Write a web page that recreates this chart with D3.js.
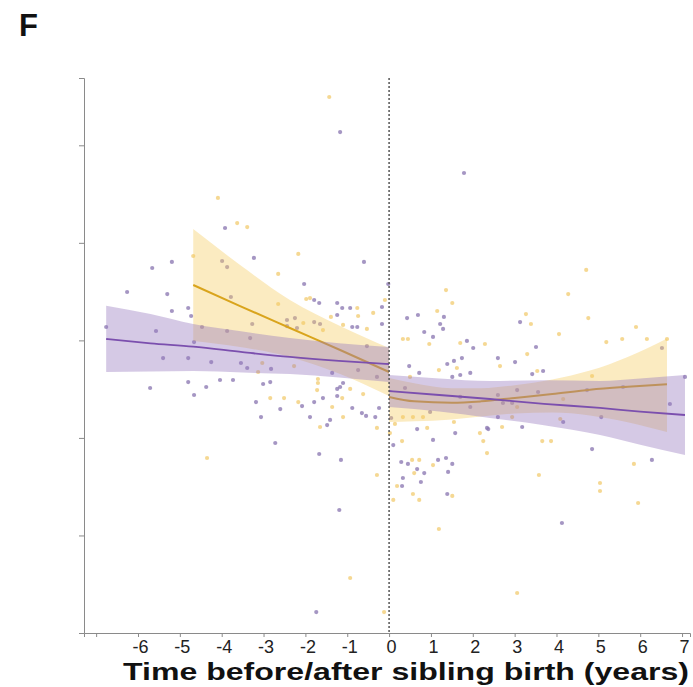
<!DOCTYPE html>
<html>
<head>
<meta charset="utf-8">
<script src="https://cdn.jsdelivr.net/npm/d3@7"></script>
<style>
  html, body { margin: 0; padding: 0; background: #fff; }
  svg { display: block; }
</style>
</head>
<body>
<div id="chart"></div>
<script>
// ---------------- DATA ----------------
const xTicks = [-7, -6, -5, -4, -3, -2, -1, 0, 1, 2, 3, 4, 5, 6, 7];
const xTickLabels = ["", "-6", "-5", "-4", "-3", "-2", "-1", "0", "1", "2", "3", "4", "5", "6", "7"];
const yTicks = [1, 2, 3, 4, 5];
const xTitle = "Time before/after sibling birth (years)";
const panelLabel = "F";

// purple group points [time, value]
const purplePoints = [
  [-6.76,3.137],[-6.26,3.496],[-5.66,3.742],[-5.19,3.804],[-5.30,3.475],[-5.19,3.301],[-4.80,3.332],
  [-4.73,3.250],[-5.57,3.096],[-4.47,3.137],[-3.87,3.096],[-3.27,3.168],[-3.32,3.024],[-4.66,2.983],
  [-3.92,4.152],[-3.23,3.845],[-3.99,3.814],[-3.87,3.752],[-3.78,3.445],[-2.44,3.209],[-2.44,3.147],
  [-5.40,2.819],[-4.80,2.819],[-4.25,2.778],[-3.54,2.768],[-3.39,2.717],[-2.82,2.707],[-5.71,2.512],
  [-4.80,2.573],[-4.37,2.522],[-4.04,2.594],[-3.73,2.594],[-4.66,2.440],[-3.01,2.553],[-2.84,2.573],
  [-3.18,2.368],[-3.06,2.214],[-2.60,2.296],[-2.08,2.327],[-2.03,3.578],[-1.79,3.414],[-1.67,3.383],
  [-1.79,3.188],[-1.65,3.168],[-2.25,3.229],[-2.20,3.127],[-1.24,3.260],[-1.24,3.383],[-1.12,3.332],
  [-0.93,3.332],[-0.88,3.137],[-0.76,3.137],[-0.60,3.804],[-0.53,2.942],[-0.17,3.342],[-0.17,3.168],
  [-0.29,2.625],[-0.74,2.696],[-1.36,2.666],[-1.10,2.563],[-1.58,2.409],[-1.24,2.502],[-1.24,2.430],
  [-0.88,2.307],[-1.79,2.368],[-1.89,2.214],[-1.41,2.184],[-0.65,2.255],[-0.33,2.214],[-1.17,5.136],
  [-0.24,2.307],[-1.48,2.132],[-1.17,2.522],[-1.67,1.835],[-1.15,1.774],[-1.19,1.261],[-1.74,0.215],
  [-2.72,1.948],[-0.02,3.578],[-0.55,2.225],
  [1.79,4.716],[0.43,3.229],[0.69,3.260],[1.31,3.240],[1.22,3.168],[1.29,3.117],[0.84,3.086],
  [1.05,3.035],[1.86,2.994],[2.01,2.922],[3.51,2.932],[3.68,2.686],[3.42,2.655],[3.13,3.188],
  [3.01,2.778],[2.60,2.819],[1.74,2.819],[1.55,2.789],[1.39,2.758],[1.51,2.625],[1.70,2.645],
  [1.94,2.666],[0.72,2.666],[0.48,2.737],[0.38,2.512],[1.70,2.420],[1.94,2.317],[2.60,2.440],
  [3.06,2.491],[3.56,2.471],[2.72,2.358],[2.94,2.358],[2.60,2.214],[0.98,2.266],[0.67,2.091],
  [1.58,2.050],[2.34,2.102],[3.18,2.112],[4.73,2.491],[5.59,2.522],[6.71,2.348],[7.07,2.625],
  [6.52,2.922],[5.07,2.214],[4.85,1.886],[6.28,1.774],[4.13,1.128],[0.05,2.204],[1.05,1.979],
  [0.10,1.927],[0.29,1.753],[0.45,1.733],[1.17,1.774],[1.36,1.794],[1.51,1.733],[0.67,1.681],
  [0.84,1.640],[1.41,1.651],[0.33,1.589],[0.76,1.548],[0.31,1.507],[1.39,1.425],[2.37,2.091],
  [4.16,2.163]
];

// yellow group points [time, value]
const yellowPoints = [
  [-1.43,5.495],[-4.09,4.460],[-3.63,4.203],[-3.39,4.162],[-4.68,3.865],[-2.65,3.681],[-2.65,3.373],
  [-2.17,3.886],[-3.13,2.676],[-3.03,2.768],[-2.84,2.409],[-2.51,2.409],[-4.35,1.794],[-1.98,3.424],
  [-1.89,3.434],[-0.74,3.250],[-1.39,3.240],[-1.10,3.158],[-0.38,3.281],[-0.10,3.414],[-0.53,3.117],
  [-0.76,3.332],[-1.70,2.604],[-1.72,2.491],[-1.70,2.563],[-2.17,2.368],[-1.12,2.409],[-1.36,2.317],
  [-1.10,2.214],[-0.62,2.450],[-0.29,2.102],[-0.29,1.620],[-0.93,0.564],[-0.12,0.215],[-2.05,3.178],
  [-1.58,3.106],[-1.65,2.112],[-0.93,2.502],[-2.27,2.737],
  [1.36,3.516],[1.51,3.383],[1.15,3.301],[0.33,3.014],[0.45,3.014],[0.96,2.963],[1.70,2.973],
  [2.29,2.963],[4.71,3.722],[4.28,3.475],[3.27,3.270],[3.39,3.168],[4.76,3.229],[4.06,3.065],
  [5.90,3.137],[5.19,2.983],[5.57,3.014],[6.16,3.014],[6.64,3.014],[3.30,2.860],[2.65,2.737],
  [1.19,2.696],[4.85,2.635],[4.16,2.399],[3.06,2.317],[0.57,2.214],[0.81,2.214],[0.33,2.214],
  [0.91,2.102],[1.55,2.163],[0.14,2.143],[0.02,2.050],[0.31,1.968],[2.25,1.968],[0.55,1.774],
  [0.72,1.774],[1.05,1.722],[0.60,1.640],[0.19,1.507],[0.57,1.425],[0.72,1.364],[1.51,1.405],
  [0.10,1.364],[1.19,1.066],[2.34,1.845],[2.70,2.112],[2.94,2.214],[4.09,2.194],[3.66,1.968],
  [3.87,1.968],[5.85,1.733],[3.58,1.620],[5.04,1.538],[5.04,1.456],[5.95,1.333],[3.06,0.410],
  [2.17,2.050],[3.54,2.686],[1.62,2.717],[0.50,2.625]
];

// fitted lines with confidence band: [time, fit, lower, upper]
const purpleBefore = [
  [-6.76,3.014,2.676,3.356],[-5.7,2.970,2.680,3.270],[-4.68,2.935,2.686,3.168],
  [-3.5,2.880,2.670,3.090],[-2.37,2.830,2.655,3.024],[-1.2,2.790,2.620,2.970],[0,2.758,2.573,2.932]
];
const yellowBefore = [
  [-4.68,3.568,2.994,4.142],[-3.56,3.352,2.932,3.773],[-2.37,3.127,2.830,3.414],
  [-1.17,2.901,2.655,3.147],[0,2.676,2.430,2.922]
];
const purpleAfter = [
  [0,2.481,2.317,2.645],[1.2,2.440,2.270,2.610],[2.41,2.399,2.204,2.584],[3.7,2.350,2.130,2.590],
  [5.04,2.307,2.030,2.584],[6.0,2.270,1.930,2.610],[7.07,2.235,1.825,2.645]
];
const yellowAfter = [
  [0,2.420,2.163,2.614],[0.6,2.375,2.170,2.560],[1.5,2.360,2.190,2.510],[2.2,2.375,2.220,2.510],
  [3.0,2.410,2.250,2.540],[3.9,2.450,2.260,2.600],[4.8,2.495,2.230,2.690],[5.7,2.525,2.160,2.830],
  [6.64,2.550,2.060,3.020]
];

// ---------------- DRAW ----------------
const W = 693, H = 687;
const svg = d3.select("#chart").append("svg").attr("width", W).attr("height", H);

const x = d3.scaleLinear().domain([-7.29, 7.19]).range([84, 690]);
const y = d3.scaleLinear().domain([0, 5.69]).range([633, 78]);

const col = {
  purplePt: "rgb(135,115,175)",
  yellowPt: "rgb(242,206,120)",
  purpleLine: "#7b4fae",
  yellowLine: "#d9a41c",
  purpleBand: "rgb(150,120,190)",
  yellowBand: "rgb(245,205,100)"
};

// points
const gPts = svg.append("g");
gPts.selectAll("circle.y").data(yellowPoints).join("circle")
  .attr("class", "y").attr("cx", d => x(d[0])).attr("cy", d => y(d[1])).attr("r", 2.1)
  .attr("fill", col.yellowPt).attr("opacity", 0.8);
gPts.selectAll("circle.p").data(purplePoints).join("circle")
  .attr("class", "p").attr("cx", d => x(d[0])).attr("cy", d => y(d[1])).attr("r", 2.1)
  .attr("fill", col.purplePt).attr("opacity", 0.75);

const area = d3.area().x(d => x(d[0])).y0(d => y(d[2])).y1(d => y(d[3])).curve(d3.curveMonotoneX);
const line = d3.line().x(d => x(d[0])).y(d => y(d[1])).curve(d3.curveMonotoneX);

// yellow bands + lines
[yellowBefore, yellowAfter].forEach(s => {
  svg.append("path").attr("d", area(s)).attr("fill", col.yellowBand).attr("opacity", 0.4);
});
[yellowBefore, yellowAfter].forEach(s => {
  svg.append("path").attr("d", line(s)).attr("fill", "none").attr("stroke", col.yellowLine).attr("stroke-width", 2);
});
// purple bands + lines
[purpleBefore, purpleAfter].forEach(s => {
  svg.append("path").attr("d", area(s)).attr("fill", col.purpleBand).attr("opacity", 0.4);
});
[purpleBefore, purpleAfter].forEach(s => {
  svg.append("path").attr("d", line(s)).attr("fill", "none").attr("stroke", col.purpleLine).attr("stroke-width", 1.8);
});

// dashed zero line
svg.append("line").attr("x1", x(0)).attr("x2", x(0)).attr("y1", y(5.69)).attr("y2", y(0))
  .attr("stroke", "#555").attr("stroke-width", 1.5).attr("stroke-dasharray", "2,2");

// axes
const xAxis = d3.axisBottom(x).tickValues(xTicks).tickSize(4).tickPadding(3)
  .tickFormat((d, i) => xTickLabels[i]);
const gx = svg.append("g").attr("transform", `translate(0,${y(0)})`).call(xAxis);
gx.select(".domain").attr("stroke", "#8a8a8a");
gx.selectAll(".tick line").attr("stroke", "#8a8a8a");
gx.selectAll(".tick text").attr("font-family", "Liberation Sans, Arial, sans-serif")
  .attr("font-size", 18).attr("fill", "#222").attr("dx", 2);

const yAxis = d3.axisLeft(y).tickValues(yTicks).tickSize(5).tickFormat("");
const gy = svg.append("g").attr("transform", `translate(${x(-7.29)},0)`).call(yAxis);
gy.select(".domain").attr("stroke", "#8a8a8a");
gy.selectAll(".tick line").attr("stroke", "#8a8a8a");

// title
svg.append("text").attr("x", 406).attr("y", 680).attr("text-anchor", "middle")
  .attr("font-family", "Liberation Sans, Arial, sans-serif").attr("font-weight", "bold")
  .attr("font-size", 23).attr("fill", "#111")
  .attr("textLength", 566).attr("lengthAdjust", "spacingAndGlyphs")
  .text(xTitle);

svg.append("text").attr("x", 19).attr("y", 36)
  .attr("font-family", "Liberation Sans, Arial, sans-serif").attr("font-weight", "bold")
  .attr("font-size", 31).attr("fill", "#111").text(panelLabel);
</script>
</body>
</html>
